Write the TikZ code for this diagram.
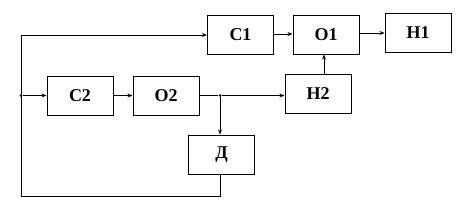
\documentclass[tikz,border=0pt]{standalone}
\usepackage{fontspec}
\setmainfont{Liberation Serif}
\usetikzlibrary{arrows.meta}
\begin{document}
\begin{tikzpicture}[x=1pt,y=-1pt,
  blk/.style={draw,line width=1pt,minimum width=66pt,minimum height=39pt,inner sep=0pt,font=\bfseries\fontsize{18}{18}\selectfont},
  wire/.style={line width=0.9pt},
  arr/.style={wire,-{Stealth[length=5pt,width=4pt]}},
  dotc/.style={circle,fill,inner sep=0pt,minimum size=3pt}]
\useasboundingbox (0,0) rectangle (466,209);
\node[blk] (C1) at (240.5,34.5) {С1};
\node[blk] (O1) at (326,34.5) {О1};
\node[blk] (H1) at (418,32.5) {Н1};
\node[blk] (H2) at (318,93.5) {Н2};
\node[blk] (C2) at (80,95.5) {С2};
\node[blk] (O2) at (166,95.5) {О2};
\node[blk] (D) at (221.5,154.5) {Д};
\node[dotc] (j1) at (21,95.5) {};
\node[dotc] (j2) at (220,95.5) {};
\coordinate (tl) at (21,35);
\coordinate (bl) at (21,196);
\coordinate (br) at (220,196);
\draw[arr] (C1.east |- 0,34) -- (O1.west |- 0,34);
\draw[arr] (O1.east |- 0,33) -- (H1.west |- 0,33);
\draw[arr] (H2.north -| 324,0) -- (O1.south -| 324,0);
\draw[arr] (j1) -- (C2.west);
\draw[arr] (C2.east) -- (O2.west);
\draw[wire] (O2.east) -- (j2);
\draw[arr] (j2) -- (H2.west |- j2);
\draw[arr] (j2) -- (D.north -| j2);
\draw[wire] (D.south -| br) -- (br) -- (bl) -- (tl);
\draw[arr] (tl) -- (C1.west |- tl);
\end{tikzpicture}
\end{document}
